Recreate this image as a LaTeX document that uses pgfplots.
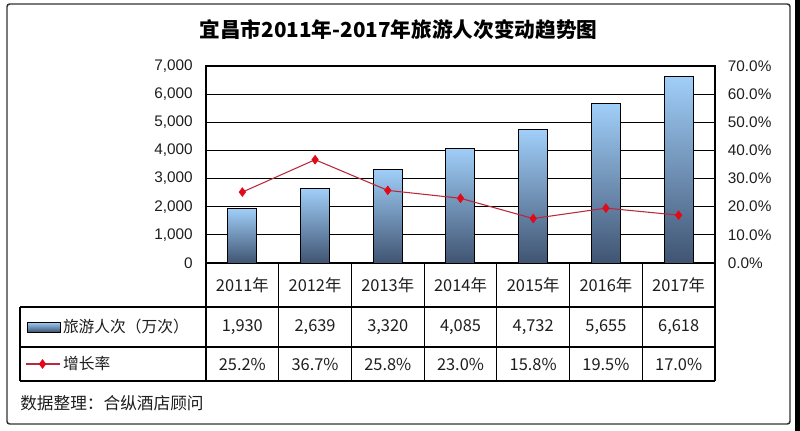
\documentclass[border=0pt]{standalone}
\usepackage{pgfplots}
\pgfplotsset{compat=1.18}
\usepackage{fontspec}
\setmainfont{Liberation Sans}
\newfontfamily\cjk{Noto Sans CJK SC}
\definecolor{barTop}{RGB}{160,206,248}
\definecolor{barMid}{RGB}{122,157,198}
\definecolor{barBot}{RGB}{64,84,114}
\definecolor{lineRed}{RGB}{185,40,60}
\definecolor{markRed}{RGB}{225,10,25}
\definecolor{txt}{RGB}{30,30,30}
\begin{document}
\begin{tikzpicture}
\path[use as bounding box] (0pt,0pt) rectangle (600pt,-323.25pt);
\begin{scope}[x=0.75pt,y=-0.75pt]
\fill[white] (0,0) rectangle (800,431);
\draw[black!80, line width=1.1pt, rounded corners=2pt] (7,4) rectangle (790,424);
\fill[black] (795,0) rectangle (800,431);
\end{scope}

\begin{axis}[
  at={(154.5pt,-197.25pt)}, anchor=south west,
  scale only axis, width=381.75pt, height=147.75pt,
  xmin=-0.5, xmax=6.5, ymin=0, ymax=7000,
  xtick=\empty, ytick={0,1000,...,7000},
  scaled y ticks=false,
  ymajorgrids, grid style={black, line width=0.7pt},
  axis line style={black, line width=0.8pt},
  major tick length=0pt,
  tick label style={font=\fontsize{11.5}{12}\selectfont, text=txt},
  yticklabel style={anchor=east, inner sep=0pt, xshift=-9.75pt},
  /pgf/number format/assume math mode=true,
  /pgf/number format/1000 sep={,},
  legend style={at={(axis description cs:-0.35167,-0.3249)}, anchor=west,
    draw=none, fill=none, inner sep=0pt, outer sep=0pt, column sep=1.5pt,
    font=\cjk\fontsize{11.8}{13}\selectfont, text=txt, nodes={inner sep=0pt}},
  legend image code/.code={\draw[#1] (0pt,-3.75pt) rectangle (24.75pt,3.75pt);},
  barstyle/.style={ybar, bar width=21.75pt, bar shift=0pt, draw=black, line width=0.75pt,
    top color=barTop, middle color=barMid, bottom color=barBot},
]
\addplot[barstyle] coordinates {(0,1930)};
\addlegendentry{旅游人次（万次）}
\addplot[barstyle, forget plot] coordinates {(1,2639)};
\addplot[barstyle, forget plot] coordinates {(2,3320)};
\addplot[barstyle, forget plot] coordinates {(3,4085)};
\addplot[barstyle, forget plot] coordinates {(4,4732)};
\addplot[barstyle, forget plot] coordinates {(5,5655)};
\addplot[barstyle, forget plot] coordinates {(6,6618)};
\end{axis}

\begin{axis}[
  at={(154.5pt,-197.25pt)}, anchor=south west,
  scale only axis, width=381.75pt, height=147.75pt,
  xmin=-0.5, xmax=6.5, ymin=0, ymax=70,
  hide x axis, axis y line*=right,
  axis line style={black, line width=0.8pt},
  ytick={0,10,...,70}, major tick length=0pt,
  tick label style={font=\fontsize{11.5}{12}\selectfont, text=txt},
  /pgf/number format/assume math mode=true,
  yticklabel={\pgfmathprintnumber[fixed,fixed zerofill,precision=1]{\tick}\%},
  yticklabel style={anchor=west, inner sep=0pt, xshift=9.5pt},
  legend style={at={(axis description cs:-0.3556,-0.5127)}, anchor=west,
    draw=none, fill=none, inner sep=0pt, outer sep=0pt, column sep=2.25pt,
    font=\cjk\fontsize{11.8}{13}\selectfont, text=txt, nodes={inner sep=0pt}},
  legend image code/.code={\draw[mark repeat=2,mark phase=2,#1] plot coordinates {(0pt,0pt) (12.75pt,0pt) (25.5pt,0pt)};},
]
\addplot[lineRed, line width=0.8pt, mark=diamond*, mark size=3pt,
  mark options={fill=markRed, draw=markRed, solid}]
  coordinates {(0,25.2) (1,36.7) (2,25.8) (3,23.0) (4,15.8) (5,19.5) (6,17.0)};
\addlegendentry{增长率}
\end{axis}

\begin{scope}[x=0.75pt,y=-0.75pt]
\begin{scope}[line width=0.9pt, black]
\foreach \k in {0,...,7} \draw ({206+\k*509/7},263) -- ({206+\k*509/7},381);
\draw (20,307) -- (715,307);
\draw (20,347) -- (715,347);
\draw (20,381) -- (715,381);
\draw (20,307) -- (20,381);
\end{scope}
\foreach \yr/\val/\pc [count=\i from 0] in {2011/{1,930}/25.2, 2012/{2,639}/36.7, 2013/{3,320}/25.8, 2014/{4,085}/23.0, 2015/{4,732}/15.8, 2016/{5,655}/19.5, 2017/{6,618}/17.0} {
  \node[font=\cjk\fontsize{12.3}{14}\selectfont, text=txt] at ({206+(\i+0.5)*509/7},285) {\yr 年};
  \node[font=\cjk\fontsize{12.3}{14}\selectfont, text=txt] at ({206+(\i+0.5)*509/7},327) {\val};
  \node[font=\cjk\fontsize{12.3}{14}\selectfont, text=txt] at ({206+(\i+0.5)*509/7},364) {\pc\%};
}
\node[anchor=west, inner sep=0pt, font=\cjk\fontsize{12.5}{14}\selectfont, text=txt] at (20,403) {数据整理：合纵酒店顾问};
\node[font=\cjk\bfseries\fontsize{15.5}{18}\selectfont, text=black] at (398.5,29.5) {宜昌市2011年-2017年旅游人次变动趋势图};
\end{scope}
\end{tikzpicture}
\end{document}
